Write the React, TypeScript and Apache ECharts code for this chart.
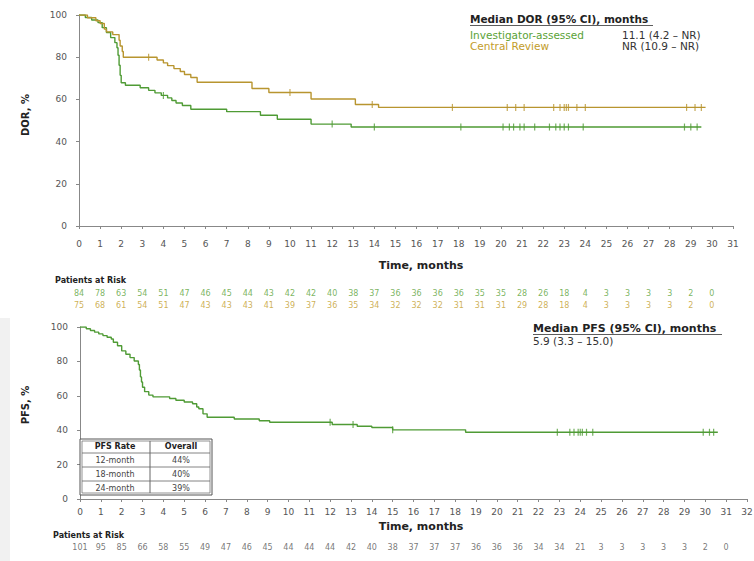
import React, { useEffect, useRef } from "react";
import * as echarts from "echarts";

// Kaplan–Meier step curves: [month, % event-free from that month on]
const dorInvestigator: [number, number][] = [
  [0, 100], [0.3, 98.8], [0.6, 97.6], [0.9, 96.4], [1.1, 94.0], [1.3, 91.7], [1.5, 89.3],
  [1.7, 86.9], [1.8, 84.5], [1.85, 80.9], [1.9, 76.2], [1.95, 71.4], [2.0, 67.9], [2.2, 66.7],
  [2.9, 65.5], [3.3, 64.3], [3.6, 63.1], [3.9, 61.9], [4.2, 60.7], [4.4, 59.5], [4.6, 58.3],
  [4.9, 57.1], [5.3, 55.3], [7.0, 54.2], [8.6, 52.5], [9.4, 50.6], [11.0, 48.3], [12.9, 46.9],
  [29.5, 46.9],
];
const dorCentral: [number, number][] = [
  [0, 100], [0.4, 98.7], [0.8, 97.3], [1.0, 96.0], [1.2, 93.3], [1.3, 92.0], [1.6, 90.7],
  [1.9, 88.0], [1.95, 85.3], [2.05, 82.7], [2.1, 80.0], [3.7, 78.7], [4.0, 77.3], [4.2, 76.0],
  [4.5, 74.6], [4.8, 73.2], [5.0, 71.8], [5.3, 70.4], [5.6, 68.1], [8.2, 65.2], [9.0, 63.3],
  [11.0, 60.2], [13.1, 57.6], [14.2, 56.2], [29.7, 56.2],
];
const dorInvestigatorCensored = [
  4.0, 12.0, 14.0, 18.1, 20.1, 20.4, 20.6, 20.9, 21.1, 21.6, 22.3, 22.6, 22.8, 23.0, 23.2,
  23.9, 28.7, 29.0, 29.3,
];
const dorCentralCensored = [
  3.3, 10.0, 13.9, 17.7, 20.3, 20.7, 21.1, 22.5, 22.8, 23.0, 23.1, 23.2, 23.6, 24.0, 28.8,
  29.2, 29.5,
];

const pfsOverall: [number, number][] = [
  [0, 100], [0.3, 99.0], [0.5, 98.0], [0.7, 97.0], [0.9, 96.0], [1.1, 95.0], [1.3, 94.0],
  [1.5, 93.0], [1.6, 91.1], [1.8, 89.1], [2.0, 86.1], [2.2, 84.2], [2.4, 82.2], [2.6, 80.2],
  [2.8, 78.2], [2.85, 75.0], [2.9, 71.0], [2.95, 68.0], [3.0, 65.0], [3.1, 62.4], [3.3, 60.4],
  [3.5, 59.4], [4.3, 58.4], [4.6, 57.4], [5.0, 56.4], [5.4, 55.4], [5.6, 53.5], [5.7, 52.5],
  [5.9, 49.5], [6.1, 47.5], [7.4, 46.5], [8.6, 45.5], [9.1, 44.6], [12.1, 43.3], [13.3, 42.3],
  [14.0, 41.6], [15.0, 40.2], [18.5, 38.8], [30.6, 38.8],
];
const pfsCensored = [12.0, 13.1, 15.0, 22.9, 23.5, 23.7, 23.9, 24.0, 24.1, 24.3, 24.6, 29.9, 30.2, 30.4];

// Patients at risk, one value per month starting at 0
const riskInvestigator = [
  84, 78, 63, 54, 51, 47, 46, 45, 44, 43, 42, 42, 40, 38, 37, 36, 36, 36, 36, 35, 35, 28, 26, 18,
  4, 3, 3, 3, 3, 2, 0,
];
const riskCentral = [
  75, 68, 61, 54, 51, 47, 43, 43, 43, 41, 39, 37, 36, 35, 34, 32, 32, 32, 31, 31, 31, 29, 28, 18,
  4, 3, 3, 3, 3, 2, 0,
];
const riskPfs = [
  101, 95, 85, 66, 58, 55, 49, 47, 46, 45, 44, 44, 44, 42, 40, 38, 37, 37, 37, 36, 36, 36, 34, 34,
  21, 3, 3, 3, 3, 3, 2, 0,
];

// PFS landmark table
const pfsRateLabels = ["12-month", "18-month", "24-month"];
const pfsRateValues = ["44%", "40%", "39%"];

// Median summaries
const dorMedianTitle = "Median DOR (95% CI), months";
const dorGroups = ["Investigator-assessed", "Central Review"];
const dorMedians = ["11.1 (4.2 – NR)", "NR (10.9 – NR)"];
const pfsMedianTitle = "Median PFS (95% CI), months";
const pfsMedian = "5.9 (3.3 – 15.0)";

const GREEN = "#4f9b35";
const GOLD = "#b8952f";
const GREEN_TEXT = "#5aa236";
const GOLD_TEXT = "#c29c2a";
const FONT = "DejaVu Sans";

const valueAt = (curve: [number, number][], t: number) => {
  let v = curve[0][1];
  for (const [x, y] of curve) if (x <= t) v = y;
  return v;
};
const censorPoints = (curve: [number, number][], times: number[]) =>
  times.map((t) => [t, valueAt(curve, t)]);

const axisLabel = { fontSize: 9, color: "#555", fontFamily: FONT };
const axisLine = { lineStyle: { color: "#888", width: 1 } };
const axisTick = { length: 3, lineStyle: { color: "#888" } };

const kmLine = (name: string, data: [number, number][], color: string, idx: number) => ({
  name,
  type: "line",
  xAxisIndex: idx,
  yAxisIndex: idx,
  step: "end",
  symbol: "none",
  data,
  lineStyle: { color, width: 1.4 },
  z: 3,
});
const censorSeries = (data: number[][], color: string, idx: number) => ({
  type: "scatter",
  xAxisIndex: idx,
  yAxisIndex: idx,
  symbol: "rect",
  symbolSize: [1.2, 7],
  data,
  itemStyle: { color },
  z: 4,
});
const riskSeries = (values: number[], row: number, color: string, idx: number) => ({
  type: "scatter",
  xAxisIndex: idx,
  yAxisIndex: idx,
  symbolSize: 0,
  data: values.map((n, i) => [i, row, n]),
  label: {
    show: true,
    position: "inside",
    formatter: (p: any) => String(p.value[2]),
    fontSize: 8,
    color,
    fontFamily: FONT,
  },
});

const text = (
  x: number,
  y: number,
  t: string,
  opts: { fill?: string; size?: number; bold?: boolean; align?: string; rotation?: number } = {}
) => ({
  type: "text",
  x,
  y,
  rotation: opts.rotation ?? 0,
  z: 10,
  style: {
    text: t,
    fill: opts.fill ?? "#222",
    font: `${opts.bold ? "bold " : ""}${opts.size ?? 10}px "${FONT}"`,
    textAlign: opts.align ?? "left",
    textVerticalAlign: "middle",
  },
});
const hline = (x1: number, x2: number, y: number, color = "#333", w = 1) => ({
  type: "line",
  z: 10,
  shape: { x1, y1: y, x2, y2: y },
  style: { stroke: color, lineWidth: w },
});
const vline = (x: number, y1: number, y2: number, color = "#333", w = 1) => ({
  type: "line",
  z: 10,
  shape: { x1: x, y1, x2: x, y2 },
  style: { stroke: color, lineWidth: w },
});

// Landmark table drawn over the PFS plot
const tableX = 80;
const tableY = 439;
const tableW = 132;
const rowH = 14;
const colSplit = 150;
const tableGraphics: any[] = [
  {
    type: "rect",
    z: 9,
    shape: { x: tableX, y: tableY, width: tableW, height: rowH * 4 },
    style: { fill: "#fff", stroke: "#555", lineWidth: 1 },
  },
  {
    type: "rect",
    z: 9,
    shape: { x: tableX + 2, y: tableY + 2, width: tableW - 4, height: rowH * 4 - 4 },
    style: { fill: "none", stroke: "#777", lineWidth: 0.8 },
  },
  vline(colSplit, tableY + 2, tableY + rowH * 4 - 2, "#666"),
  ...[1, 2, 3].map((r) => hline(tableX + 2, tableX + tableW - 2, tableY + rowH * r, "#666", 0.8)),
  text((tableX + colSplit) / 2, tableY + rowH / 2, "PFS Rate", { size: 8, bold: true, align: "center" }),
  text((colSplit + tableX + tableW) / 2, tableY + rowH / 2, "Overall", { size: 8, bold: true, align: "center" }),
  ...pfsRateLabels.map((l, i) =>
    text((tableX + colSplit) / 2, tableY + rowH * (i + 1.5), l, { size: 8, align: "center", fill: "#444" })
  ),
  ...pfsRateValues.map((v, i) =>
    text((colSplit + tableX + tableW) / 2, tableY + rowH * (i + 1.5), v, { size: 8, align: "center", fill: "#444" })
  ),
];

const option: any = {
  animation: false,
  backgroundColor: "#fff",
  grid: [
    { left: 79, top: 15, width: 654, height: 211, outerBoundsMode: "none" },
    { left: 79, top: 287, width: 654, height: 24, outerBoundsMode: "none" },
    { left: 80, top: 327, width: 667, height: 172, outerBoundsMode: "none" },
    { left: 80, top: 541, width: 667, height: 12, outerBoundsMode: "none" },
  ],
  xAxis: [
    {
      type: "value", gridIndex: 0, min: 0, max: 31, interval: 1, offset: 4,
      axisLine, axisTick, axisLabel: { ...axisLabel, margin: 9 }, splitLine: { show: false },
    },
    { type: "value", gridIndex: 1, min: 0, max: 31, show: false },
    {
      type: "value", gridIndex: 2, min: 0, max: 32, interval: 1, offset: 2,
      axisLine, axisTick, axisLabel: { ...axisLabel, margin: 6 }, splitLine: { show: false },
    },
    { type: "value", gridIndex: 3, min: 0, max: 32, show: false },
  ],
  yAxis: [
    {
      type: "value", gridIndex: 0, min: 0, max: 100, interval: 20, offset: 7,
      axisLine: { show: true, ...axisLine }, axisTick: { show: true, ...axisTick },
      axisLabel: { ...axisLabel, margin: 5 }, splitLine: { show: false },
    },
    { type: "value", gridIndex: 1, min: 0, max: 2, show: false },
    {
      type: "value", gridIndex: 2, min: 0, max: 100, interval: 20, offset: 7,
      axisLine: { show: true, ...axisLine }, axisTick: { show: true, ...axisTick },
      axisLabel: { ...axisLabel, margin: 5 }, splitLine: { show: false },
    },
    { type: "value", gridIndex: 3, min: 0, max: 1, show: false },
  ],
  series: [
    kmLine("Investigator-assessed", dorInvestigator, GREEN, 0),
    kmLine("Central Review", dorCentral, GOLD, 0),
    censorSeries(censorPoints(dorInvestigator, dorInvestigatorCensored), GREEN, 0),
    censorSeries(censorPoints(dorCentral, dorCentralCensored), GOLD, 0),
    riskSeries(riskInvestigator, 1.5, GREEN_TEXT, 1),
    riskSeries(riskCentral, 0.5, GOLD_TEXT, 1),
    kmLine("PFS", pfsOverall, GREEN, 2),
    censorSeries(censorPoints(pfsOverall, pfsCensored), GREEN, 2),
    riskSeries(riskPfs, 0.5, "#555", 3),
  ],
  graphic: [
    { type: "rect", z: 0, shape: { x: 0, y: 318, width: 10, height: 243 }, style: { fill: "#f1f1f1" } },
    // axis titles
    text(25, 115, "DOR, %", { bold: true, size: 10, align: "center", rotation: Math.PI / 2 }),
    text(25, 405, "PFS, %", { bold: true, size: 10, align: "center", rotation: Math.PI / 2 }),
    text(421, 265, "Time, months", { bold: true, size: 11, align: "center" }),
    text(421, 526, "Time, months", { bold: true, size: 11, align: "center" }),
    text(55, 280, "Patients at Risk", { bold: true, size: 8 }),
    text(53, 535, "Patients at Risk", { bold: true, size: 8 }),
    // DOR medians
    text(470, 19, dorMedianTitle, { bold: true, size: 10.5 }),
    hline(470, 653, 25.5, "#333", 0.8),
    text(470, 35, dorGroups[0], { size: 10.5, fill: GREEN_TEXT }),
    text(470, 46, dorGroups[1], { size: 10.5, fill: GOLD_TEXT }),
    text(622, 35, dorMedians[0], { size: 10.5, fill: "#333" }),
    text(622, 46, dorMedians[1], { size: 10.5, fill: "#333" }),
    // PFS median
    text(533, 328, pfsMedianTitle, { bold: true, size: 11 }),
    hline(533, 722, 334.5, "#333", 0.8),
    text(533, 341, pfsMedian, { size: 10.5, fill: "#333" }),
    ...tableGraphics,
  ],
};

export default function App() {
  const ref = useRef<HTMLDivElement>(null);
  useEffect(() => {
    const chart = echarts.init(ref.current!, null, { renderer: "svg" });
    chart.setOption(option);
    return () => chart.dispose();
  }, []);
  return (
    <div
      ref={ref}
      style={{ position: "absolute", left: 0, top: 0, width: 754, height: 561, background: "#fff" }}
    />
  );
}
